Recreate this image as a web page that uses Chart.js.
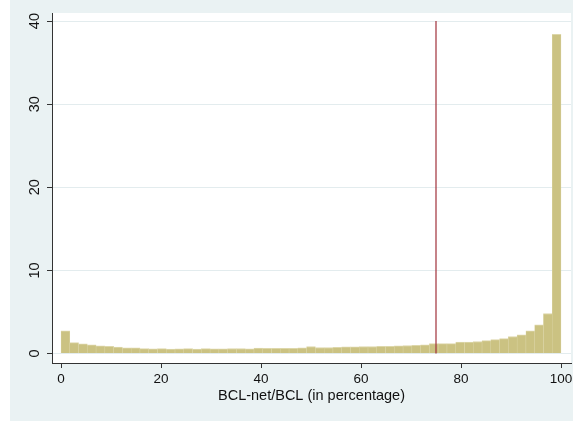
<!DOCTYPE html>
<html>
<head>
<meta charset="utf-8">
<script src="https://cdn.jsdelivr.net/npm/chart.js@4.4.1/dist/chart.umd.min.js"></script>
<style>
  html, body { margin: 0; padding: 0; background: #fff; }
  #wrap { width: 576px; height: 423px; }
</style>
</head>
<body>
<div id="wrap"><canvas id="histChart" width="576" height="423"></canvas></div>
<script>
// histogram of BCL-net/BCL, 57 bins from 0 to 100, heights in percent
const binStart = 0;
const binEnd = 100;
const binPercents = [
  2.73, 1.31, 1.18, 1.06, 0.92, 0.88, 0.78, 0.68, 0.68, 0.58,
  0.56, 0.58, 0.54, 0.55, 0.58, 0.54, 0.58, 0.56, 0.57, 0.60,
  0.60, 0.56, 0.66, 0.64, 0.64, 0.64, 0.64, 0.68, 0.84, 0.72,
  0.72, 0.76, 0.80, 0.80, 0.84, 0.84, 0.86, 0.88, 0.92, 0.97,
  1.00, 1.06, 1.20, 1.20, 1.20, 1.37, 1.37, 1.45, 1.55, 1.67,
  1.79, 2.05, 2.25, 2.73, 3.45, 4.82, 38.4
];
const xTicks = [0, 20, 40, 60, 80, 100];
const yTicks = [0, 10, 20, 30, 40];
const cutoff = 75;      // vertical reference line
const refLineSpan = [0, 40];

const binWidth = (binEnd - binStart) / binPercents.length;
const barPoints = binPercents.map((v, i) => ({ x: binStart + (i + 0.5) * binWidth, y: v }));
const refPoints = refLineSpan.map(v => ({ x: cutoff, y: v }));

const fam = 'Liberation Sans, Arial, sans-serif';

// stata-like background: light graph region, white plot region
const bgPlugin = {
    id: 'bg',
    beforeDraw(chart) {
        const { ctx, chartArea: a } = chart;
        ctx.save();
        ctx.fillStyle = '#ffffff';
        ctx.fillRect(0, 0, chart.width, chart.height);
        ctx.fillStyle = '#eaf2f3';
        ctx.fillRect(10, 0, 563, 421);
        ctx.fillStyle = '#ffffff';
        ctx.fillRect(a.left, a.top, a.right - a.left, a.bottom - a.top);
        ctx.restore();
    }
};

new Chart(document.getElementById('histChart').getContext('2d'), {
    type: 'bar',
    data: {
        datasets: [
            {
                type: 'line',
                data: refPoints,
                borderColor: '#a0303a',
                borderWidth: 1.2,
                pointRadius: 0,
                order: 0
            },
            {
                data: barPoints,
                backgroundColor: 'rgb(203,194,130)',
                borderColor: 'rgb(221,215,170)',
                borderWidth: { top: 1, left: 0.5, right: 0.5, bottom: 0 },
                borderSkipped: false,
                barPercentage: 1,
                categoryPercentage: 1,
                order: 1
            }
        ]
    },
    options: {
        responsive: false,
        animation: false,
        layout: { padding: { left: 0, top: 13, right: 5, bottom: 0 } },
        plugins: { legend: { display: false }, tooltip: { enabled: false } },
        scales: {
            x: {
                type: 'linear',
                offset: false,
                min: -1.8,
                max: 102,
                afterBuildTicks: s => { s.ticks = xTicks.map(v => ({ value: v })); },
                afterFit: s => { s.height = 60; },
                grid: { display: true, drawOnChartArea: false, drawTicks: true, tickLength: 5, tickColor: '#333', offset: false },
                border: { display: true, color: '#333', width: 1 },
                ticks: { color: '#111', font: { family: fam, size: 13.5 }, padding: 3, maxRotation: 0 },
                title: {
                    display: true,
                    text: 'BCL-net/BCL (in percentage)',
                    color: '#111',
                    font: { family: fam, size: 14.5 },
                    padding: { top: 0, bottom: 18 }
                }
            },
            y: {
                min: -1.14,
                max: 40.97,
                afterBuildTicks: s => { s.ticks = yTicks.map(v => ({ value: v })); },
                afterFit: s => { s.width = 52; },
                grid: { color: '#e3ecee', lineWidth: 1, drawTicks: true, tickLength: 5, tickColor: '#333' },
                border: { display: true, color: '#333', width: 1 },
                ticks: { color: '#111', font: { family: fam, size: 14.5 }, padding: 4, minRotation: 90, maxRotation: 90, crossAlign: 'center' }
            }
        }
    },
    plugins: [bgPlugin]
});
</script>
</body>
</html>
